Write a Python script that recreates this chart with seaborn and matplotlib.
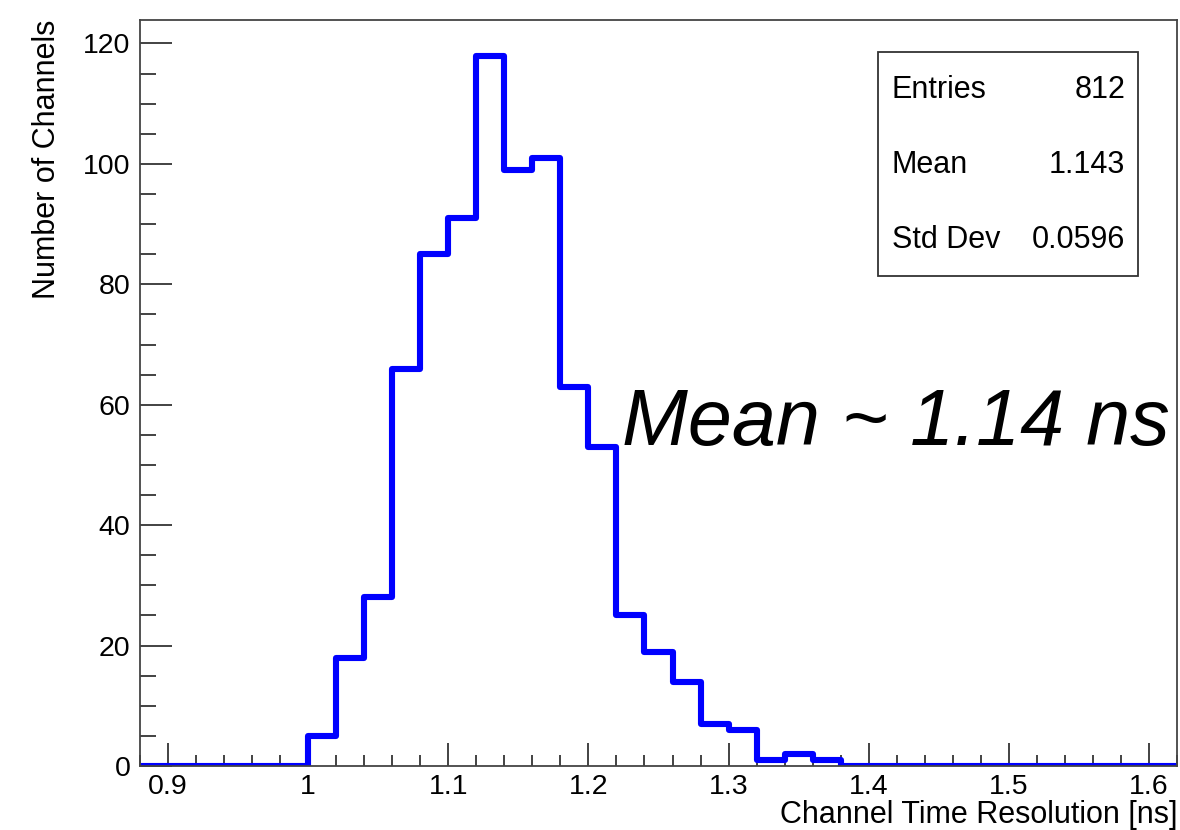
import numpy as np
import pandas as pd
import matplotlib
matplotlib.use("Agg")
import matplotlib.pyplot as plt
from matplotlib.patches import Rectangle
from matplotlib.ticker import MultipleLocator, FuncFormatter
import seaborn as sns

# Histogram binning: 0.02 ns bins from 0.88 to 1.62 ns
x_low, x_high, bin_w = 0.88, 1.62, 0.02
n_bins = int(round((x_high - x_low) / bin_w))
bin_centers = x_low + bin_w * (np.arange(n_bins) + 0.5)

# Channels per bin, starting at the 1.00-1.02 ns bin
first_filled_edge = 1.00
filled_counts = [5, 18, 28, 66, 85, 91, 118, 99, 101, 63, 53,
                 25, 19, 14, 7, 6, 1, 2, 1]

stat_names = ["Entries", "Mean", "Std Dev"]
stat_values = ["812", "1.143", "0.0596"]

annotation = "Mean ~ 1.14 ns"
x_title = "Channel Time Resolution [ns]"
y_title = "Number of Channels"

counts = np.zeros(n_bins)
start = int(round((first_filled_edge - x_low) / bin_w))
counts[start:start + len(filled_counts)] = filled_counts
hist_df = pd.DataFrame({"resolution": bin_centers, "channels": counts})

sns.set_style("ticks")
plt.rcParams["font.family"] = ["Liberation Sans", "DejaVu Sans"]
plt.rcParams["text.color"] = "black"
plt.rcParams["axes.labelcolor"] = "black"

fig = plt.figure(figsize=(11.8, 8.3), dpi=100)
ax = fig.add_axes([140 / 1180, 64 / 830, 1037 / 1180, 746 / 830])

sns.histplot(data=hist_df, x="resolution", weights="channels",
             bins=n_bins, binrange=(x_low, x_high),
             element="step", fill=False, color="#0000ff", linewidth=4.4, ax=ax)

ax.set_xlim(x_low, x_high)
ax.set_ylim(0, 123.9)

ax.xaxis.set_major_locator(MultipleLocator(0.1))
ax.xaxis.set_minor_locator(MultipleLocator(0.02))
ax.yaxis.set_major_locator(MultipleLocator(20))
ax.yaxis.set_minor_locator(MultipleLocator(5))
ax.xaxis.set_major_formatter(FuncFormatter(lambda v, p: f"{v:g}"))

ax.tick_params(axis="both", which="both", direction="in", colors="#222222",
               labelcolor="black", labelsize=20.5, width=1.2)
ax.tick_params(axis="y", which="major", length=23, pad=7)
ax.tick_params(axis="y", which="minor", length=11.5)
ax.tick_params(axis="x", which="major", length=16.5, pad=6)
ax.tick_params(axis="x", which="minor", length=8)

for side in ["left", "right", "top", "bottom"]:
    ax.spines[side].set_visible(True)
    ax.spines[side].set_color("#444444")
    ax.spines[side].set_linewidth(1.3)

ax.set_xlabel(x_title, fontsize=22, loc="right")
ax.xaxis.set_label_coords(1.0, -0.046)
ax.set_ylabel(y_title, fontsize=22, loc="top")
ax.yaxis.set_label_coords(-0.075, 1.0)

# Statistics box
box_l, box_r = (878 - 140) / 1037, (1138 - 140) / 1037
box_b, box_t = (766 - 276) / 746, (766 - 52) / 746
ax.add_patch(Rectangle((box_l, box_b), box_r - box_l, box_t - box_b,
                       transform=ax.transAxes, fill=True, facecolor="white",
                       edgecolor="#333333", linewidth=1.3, zorder=5))
row_y = [(766 - 90) / 746, (766 - 165) / 746, (766 - 240) / 746]
for name, val, yy in zip(stat_names, stat_values, row_y):
    ax.text((892 - 140) / 1037, yy, name, transform=ax.transAxes,
            ha="left", va="center", fontsize=22, zorder=6)
    ax.text((1125 - 140) / 1037, yy, val, transform=ax.transAxes,
            ha="right", va="center", fontsize=22, zorder=6)

ax.text((622 - 140) / 1037, (766 - 445) / 746, annotation,
        transform=ax.transAxes, ha="left", va="baseline",
        fontsize=57, style="italic", zorder=6)

fig.savefig("out.png", dpi=100)
